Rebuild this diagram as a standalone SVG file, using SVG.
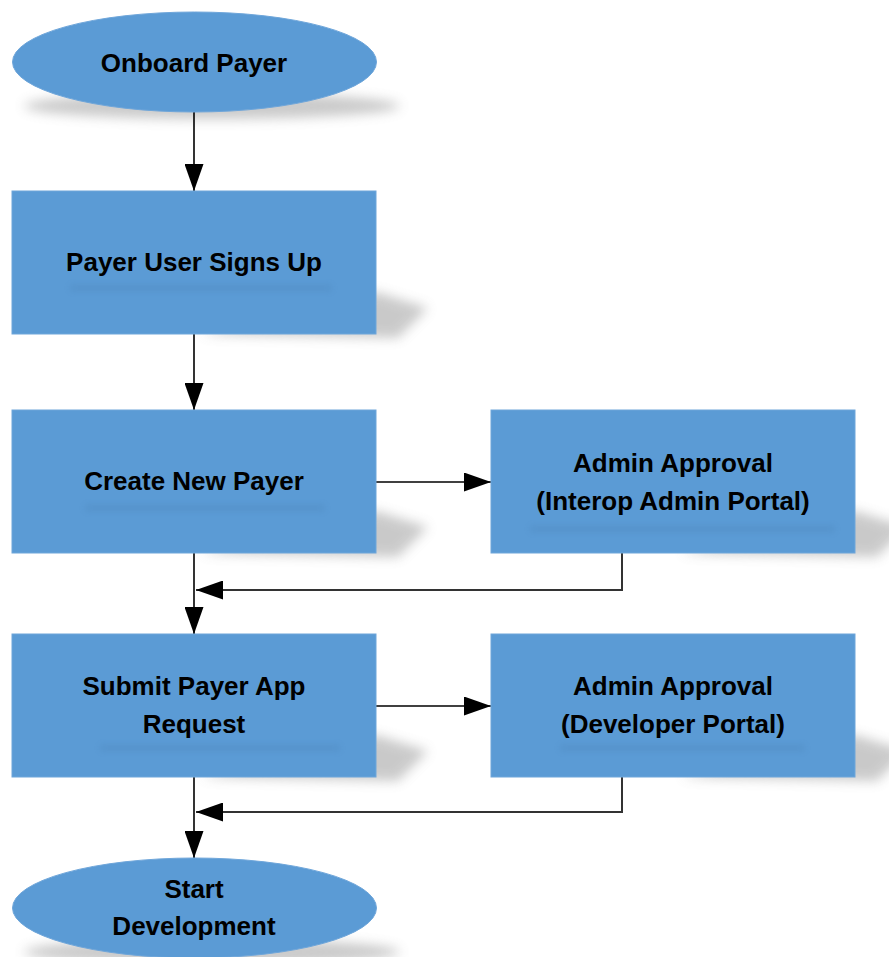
<svg xmlns="http://www.w3.org/2000/svg" width="889" height="957" viewBox="0 0 889 957">
<style>
.node{fill:#5B9BD5;stroke:#6FA6DA;stroke-width:1}
.lbl{font-family:"Liberation Sans",Arial,sans-serif;font-weight:bold;font-size:26px;fill:#000;text-anchor:middle}
.edge{fill:none;stroke:#000;stroke-width:1.6}
.ret{fill:none;stroke:#333;stroke-width:2}
.sh{fill:#8a8a8a;opacity:0.45;filter:url(#blur)}
.tsh{fill:#3a6d9c;opacity:0.18;filter:url(#blur2)}
</style>
<defs>
<filter id="blur" x="-30%" y="-80%" width="160%" height="260%"><feGaussianBlur stdDeviation="6"/></filter>
<filter id="blur2" x="-20%" y="-150%" width="140%" height="400%"><feGaussianBlur stdDeviation="3"/></filter>
<marker id="arr" viewBox="0 0 27 19" refX="27" refY="9.5" markerWidth="27" markerHeight="19" markerUnits="userSpaceOnUse" orient="auto"><path d="M0,0 L27,9.5 L0,19 Z" fill="#000"/></marker>
</defs>
<rect width="889" height="957" fill="#fff"/>
<g id="shadows">
<ellipse class="sh" cx="212" cy="106" rx="188" ry="13"/>
<polygon class="sh" points="200,334 376,292 428,308 398,338"/>
<polygon class="sh" points="200,553 376,511 428,527 398,557"/>
<polygon class="sh" points="680,553 855,511 907,527 877,557"/>
<polygon class="sh" points="200,777 376,735 428,751 398,781"/>
<polygon class="sh" points="680,777 855,735 907,751 877,781"/>
<ellipse class="sh" cx="212" cy="952" rx="188" ry="13"/>
</g>
<g id="connectors">
<line class="edge" x1="194" y1="112" x2="194" y2="191" marker-end="url(#arr)"/>
<line class="edge" x1="194" y1="334" x2="194" y2="410" marker-end="url(#arr)"/>
<line class="edge" x1="376" y1="482" x2="491" y2="482" marker-end="url(#arr)"/>
<polyline class="ret" points="622,553 622,590 196,590" marker-end="url(#arr)"/>
<line class="edge" x1="194" y1="553" x2="194" y2="634" marker-end="url(#arr)"/>
<line class="edge" x1="376" y1="706" x2="491" y2="706" marker-end="url(#arr)"/>
<polyline class="ret" points="622,777 622,812 196,812" marker-end="url(#arr)"/>
<line class="edge" x1="194" y1="777" x2="194" y2="858" marker-end="url(#arr)"/>
</g>
<g id="onboard-payer">
<ellipse class="node" cx="194.5" cy="62" rx="182" ry="50"/>
<text class="lbl" x="194" y="72">Onboard Payer</text>
</g>
<g id="payer-user-signs-up">
<rect class="node" x="12" y="191" width="364" height="143"/>
<rect class="tsh" x="70" y="285" width="262" height="6"/>
<text class="lbl" x="194" y="271">Payer User Signs Up</text>
</g>
<g id="create-new-payer">
<rect class="node" x="12" y="410" width="364" height="143"/>
<rect class="tsh" x="85" y="505" width="240" height="6"/>
<text class="lbl" x="194" y="490">Create New Payer</text>
</g>
<g id="admin-approval-interop">
<rect class="node" x="491" y="410" width="364" height="143"/>
<rect class="tsh" x="530" y="526" width="305" height="6"/>
<text class="lbl" x="673" y="472">Admin Approval</text>
<text class="lbl" x="673" y="510">(Interop Admin Portal)</text>
</g>
<g id="submit-payer-app-request">
<rect class="node" x="12" y="634" width="364" height="143"/>
<rect class="tsh" x="100" y="745" width="240" height="6"/>
<text class="lbl" x="194" y="695">Submit Payer App</text>
<text class="lbl" x="194" y="733">Request</text>
</g>
<g id="admin-approval-developer">
<rect class="node" x="491" y="634" width="364" height="143"/>
<rect class="tsh" x="560" y="745" width="245" height="6"/>
<text class="lbl" x="673" y="695">Admin Approval</text>
<text class="lbl" x="673" y="733">(Developer Portal)</text>
</g>
<g id="start-development">
<ellipse class="node" cx="194.5" cy="908" rx="182" ry="50"/>
<text class="lbl" x="194" y="898">Start</text>
<text class="lbl" x="194" y="935">Development</text>
</g>
</svg>
